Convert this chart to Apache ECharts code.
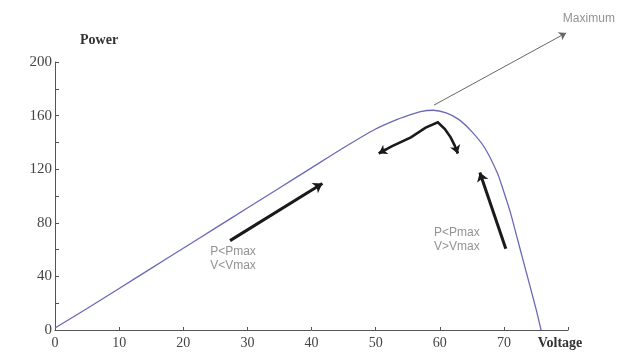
<!DOCTYPE html>
<html><head><meta charset="utf-8">
<script src="https://cdn.jsdelivr.net/npm/echarts@6/dist/echarts.min.js"></script>
<style>html,body{margin:0;padding:0;background:#fff}#c{width:637px;height:356px}</style>
</head><body><div id="c"></div>
<script>
// P-V curve (Voltage, Power)
const voltage = [0, 5, 10, 15, 20, 25, 30, 35, 40, 45, 50, 53, 55, 57, 59, 61, 63, 65, 67, 69, 70, 71, 72, 73, 74, 75, 75.8];
const power   = [1.5, 16, 31, 46, 61, 76, 91, 106, 121, 136, 150, 156.5, 160, 163, 164, 162, 157, 148, 136, 117, 103, 88, 70, 52, 34, 16, 0];
// y tick labels shown every 40, ticks every 20
const yTicks = [0, 40, 80, 120, 160, 200];
const xTicks = [0, 10, 20, 30, 40, 50, 60, 70];
// annotation arrows (data units)
const maxArrow  = [[59.1, 167.8], [79.7, 221.7]];
const lowArrow  = [[27.3, 66.7], [41.7, 109.4]];
const highArrow = [[70.3, 60.7], [66.25, 117.6]];
const peakArrow = [[50.5, 131.8], [52.5, 137], [55.5, 143.8], [57.8, 151], [59.7, 155], [60.8, 150], [61.7, 143.8], [62.3, 138], [62.8, 131.8]];
const peakHeadL = [[51.6, 134.8], [50.5, 131.8]];
const peakHeadR = [[62.5, 136], [62.8, 131.8]];
// annotation labels (data units)
const labelMax  = {pos: [79.2, 232], text: 'Maximum'};
const labelLow  = {pos: [24.2, 53.2], text: 'P<Pmax\nV<Vmax'};
const labelHigh = {pos: [59.1, 67.4], text: 'P<Pmax\nV>Vmax'};

const chart = echarts.init(document.getElementById('c'));
const serif = 'Liberation Serif';
const axisCol = '#555';
function lbl(l){
  return {
    type: 'scatter', symbolSize: 0, silent: true, clip: false,
    data: [l.pos],
    label: {show: true, position: 'inside', formatter: l.text, fontFamily: 'Liberation Sans',
      fontSize: 12, color: '#777', lineHeight: 14, align: 'left'}
  };
}
chart.setOption({
  animation: false,
  grid: {left: 55, right: 69, top: 62, bottom: 26, containLabel: false},
  xAxis: {
    type: 'value', min: 0, max: 80, interval: 10,
    name: 'Voltage', nameLocation: 'end', nameGap: -8,
    nameTextStyle: {fontFamily: serif, fontSize: 14, fontWeight: 'bold', color: '#333', align: 'center', verticalAlign: 'top', padding: [6, 0, 0, 0]},
    axisLine: {lineStyle: {color: axisCol, width: 1}},
    axisTick: {inside: true, length: 3, lineStyle: {color: axisCol}},
    splitLine: {show: false},
    axisLabel: {fontFamily: serif, fontSize: 14, color: '#444', margin: 6,
      formatter: v => xTicks.includes(v) ? String(v) : ''}
  },
  yAxis: {
    type: 'value', min: 0, max: 200, interval: 20,
    name: 'Power', nameLocation: 'end', nameGap: 15,
    nameTextStyle: {fontFamily: serif, fontSize: 14, fontWeight: 'bold', color: '#333', align: 'left', padding: [0, 0, 0, 25]},
    axisLine: {show: true, lineStyle: {color: axisCol, width: 1}},
    axisTick: {show: true, inside: true, length: 4, lineStyle: {color: axisCol}},
    splitLine: {show: false},
    axisLabel: {fontFamily: serif, fontSize: 15, color: '#444', margin: 3,
      formatter: v => yTicks.includes(v) ? String(v) : ''}
  },
  series: [
    {type: 'line', data: voltage.map((v, i) => [v, power[i]]), smooth: 0.25, showSymbol: false,
      lineStyle: {color: '#6a6ab4', width: 1.3}},
    {type: 'lines', coordinateSystem: 'cartesian2d', clip: false, silent: true,
      symbol: ['none', 'arrow'], symbolSize: 7,
      lineStyle: {color: '#666', width: 1, opacity: 1},
      data: [{coords: maxArrow}]},
    {type: 'lines', coordinateSystem: 'cartesian2d', clip: false, silent: true,
      symbol: ['none', 'arrow'], symbolSize: 9,
      lineStyle: {color: '#1a1a1a', width: 3, opacity: 1},
      data: [{coords: lowArrow}, {coords: highArrow}]},
    {type: 'lines', coordinateSystem: 'cartesian2d', polyline: true, clip: false, silent: true,
      lineStyle: {color: '#1a1a1a', width: 2.6, opacity: 1},
      data: [{coords: peakArrow}]},
    {type: 'lines', coordinateSystem: 'cartesian2d', clip: false, silent: true,
      symbol: ['none', 'arrow'], symbolSize: 8,
      lineStyle: {color: '#1a1a1a', width: 2.6, opacity: 1},
      data: [{coords: peakHeadL}, {coords: peakHeadR}]},
    lbl(labelMax), lbl(labelLow), lbl(labelHigh)
  ]
});
</script></body></html>
